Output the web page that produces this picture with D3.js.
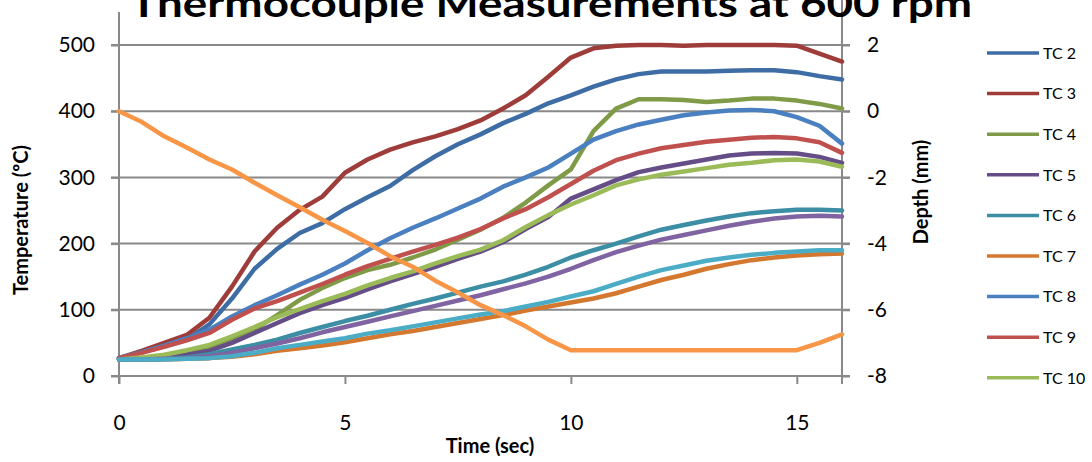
<!DOCTYPE html>
<html>
<head>
<meta charset="utf-8">
<script src="https://cdn.jsdelivr.net/npm/d3@7/dist/d3.min.js"></script>
<style>
  html, body { margin: 0; padding: 0; background: #fff; }
  svg { display: block; font-family: Lato, "Open Sans", "Liberation Sans", sans-serif; }
</style>
</head>
<body>
<svg id="chart" width="1092" height="462"></svg>
<script>
// Time base (seconds)
const time = [0, 0.5, 1, 1.5, 2, 2.5, 3, 3.5, 4, 4.5, 5, 5.5, 6, 6.5, 7, 7.5, 8,
              8.5, 9, 9.5, 10, 10.5, 11, 11.5, 12, 12.5, 13, 13.5, 14, 14.5, 15, 15.5, 16];

// Thermocouple temperatures (°C)
const tc2  = [27, 36, 45, 55, 78, 117, 162, 192, 216, 231, 252, 270, 287, 311, 332, 350, 365,
              382, 396, 412, 424, 437, 448, 456, 460, 460, 460, 461, 462, 462, 459, 453, 448];
const tc3  = [27, 38, 50, 62, 88, 135, 188, 224, 251, 271, 307, 327, 342, 353, 362, 373, 386,
              404, 424, 452, 481, 495, 499, 500, 500, 499, 500, 500, 500, 500, 499, 487, 475];
const tc4  = [26, 27, 30, 35, 42, 55, 70, 92, 115, 133, 148, 160, 168, 179, 191, 206, 221,
              239, 262, 288, 312, 370, 404, 418, 418, 417, 414, 416, 419, 419, 416, 411, 404];
const tc5  = [25, 26, 28, 32, 38, 50, 65, 80, 95, 107, 118, 131, 143, 154, 165, 177, 188,
              202, 222, 240, 268, 282, 296, 308, 315, 321, 327, 333, 336, 337, 336, 331, 322];
const tc6  = [25, 25, 26, 28, 33, 40, 47, 55, 65, 74, 83, 91, 100, 109, 117, 126, 135,
              143, 153, 165, 179, 190, 200, 211, 221, 228, 235, 241, 246, 249, 251, 251, 250];
const tc7  = [25, 25, 25, 26, 27, 29, 33, 38, 42, 46, 51, 57, 63, 68, 74, 80, 86,
              92, 99, 105, 111, 117, 125, 135, 145, 153, 162, 169, 175, 179, 182, 184, 185];
const tc8  = [27, 36, 46, 57, 70, 90, 107, 122, 138, 153, 170, 190, 208, 224, 238, 253, 268,
              286, 300, 315, 336, 357, 370, 380, 387, 394, 398, 401, 402, 400, 391, 378, 351];
const tc9  = [27, 35, 44, 54, 65, 85, 102, 113, 126, 139, 153, 166, 177, 188, 198, 209, 222,
              238, 252, 270, 290, 310, 326, 336, 344, 349, 354, 357, 360, 361, 359, 353, 337];
const tc10 = [25, 28, 32, 39, 47, 60, 74, 89, 101, 113, 124, 137, 148, 158, 170, 181, 191,
              205, 225, 243, 259, 273, 288, 297, 304, 309, 314, 319, 322, 326, 327, 324, 316];
const tc11 = [25, 25, 26, 27, 30, 35, 42, 49, 57, 66, 74, 82, 90, 98, 106, 114, 122,
              131, 140, 150, 162, 175, 187, 197, 206, 213, 220, 227, 233, 238, 241, 242, 241];
const tc12 = [25, 25, 25, 26, 27, 30, 35, 42, 47, 52, 57, 64, 69, 75, 81, 87, 93,
              98, 105, 112, 120, 128, 139, 150, 160, 167, 174, 179, 183, 186, 188, 190, 190];

// Tool depth (mm), secondary axis
const depth = [0, -0.32, -0.76, -1.1, -1.46, -1.76, -2.16, -2.54, -2.9, -3.28, -3.62, -3.98, -4.38,
               -4.7, -5.12, -5.48, -5.86, -6.16, -6.5, -6.9, -7.22, -7.22, -7.22, -7.22, -7.22,
               -7.22, -7.22, -7.22, -7.22, -7.22, -7.22, -7.0, -6.74];

const seriesNames  = ["TC 2", "TC 3", "TC 4", "TC 5", "TC 6", "TC 7", "TC 8", "TC 9", "TC 10", "TC 11", "TC 12"];
const seriesValues = [tc2, tc3, tc4, tc5, tc6, tc7, tc8, tc9, tc10, tc11, tc12];
const seriesColors = ["#3D6DA4", "#9E3C39", "#7F9B48", "#654D87", "#3C8EA4", "#D4782F",
                      "#4A7FC0", "#C0504D", "#9BBB59", "#8064A2", "#4BACC6"];
const depthColor = "#F79646";

const tempTicks  = [0, 100, 200, 300, 400, 500];
const depthTicks = [-8, -6, -4, -2, 0, 2];
const timeTicks  = [0, 5, 10, 15];
const legendCount = 9;

const svg = d3.select("#chart");
const grey = "#898989";

const x  = d3.scaleLinear().domain([0, 16]).range([119, 842]);
const y  = d3.scaleLinear().domain([0, 500]).range([376, 45]);
const y2 = d3.scaleLinear().domain([-8, 2]).range([376, 45]);

// Horizontal gridlines (they also act as the outer tick marks on both sides)
svg.append("g").selectAll("line").data(tempTicks).join("line")
  .attr("x1", 111).attr("x2", 850)
  .attr("y1", d => y(d)).attr("y2", d => y(d))
  .attr("stroke", grey).attr("stroke-width", 2);

// Vertical axis lines
svg.append("line").attr("x1", 119).attr("x2", 119).attr("y1", 12).attr("y2", 384)
  .attr("stroke", grey).attr("stroke-width", 2);
svg.append("line").attr("x1", 842).attr("x2", 842).attr("y1", 0).attr("y2", 384)
  .attr("stroke", grey).attr("stroke-width", 2);

// Left axis labels
const yAxis = svg.append("g").attr("transform", "translate(119,0)")
  .call(d3.axisLeft(y).tickValues(tempTicks).tickSize(8).tickPadding(16).tickFormat(d => String(d)));
// Right axis labels
const y2Axis = svg.append("g").attr("transform", "translate(842,0)")
  .call(d3.axisRight(y2).tickValues(depthTicks).tickSize(8).tickPadding(17).tickFormat(d => String(d)));
// Bottom axis
const xAxis = svg.append("g").attr("transform", "translate(0,376)")
  .call(d3.axisBottom(x).tickValues(timeTicks).tickSize(8).tickPadding(31).tickFormat(d => String(d)));

[yAxis, y2Axis, xAxis].forEach(g => {
  g.select(".domain").remove();
  g.selectAll(".tick line").attr("stroke", grey).attr("stroke-width", 2);
  g.selectAll(".tick text").attr("fill", "#000").style("font-size", "21px")
    .style("font-family", "Lato, 'Open Sans', sans-serif");
});
svg.append("line").attr("x1", 111).attr("x2", 842).attr("y1", 376).attr("y2", 376)
  .attr("stroke", grey).attr("stroke-width", 2);

// Temperature series
const line = d3.line().x((d, i) => x(time[i])).y(d => y(d)).curve(d3.curveLinear);
svg.append("g").selectAll("path").data(seriesValues).join("path")
  .attr("d", d => line(d))
  .attr("fill", "none")
  .attr("stroke", (d, i) => seriesColors[i])
  .attr("stroke-width", 4.5)
  .attr("stroke-linejoin", "round")
  .attr("stroke-linecap", "round");

// Depth series on secondary axis
const depthLine = d3.line().x((d, i) => x(time[i])).y(d => y2(d));
svg.append("path").attr("d", depthLine(depth))
  .attr("fill", "none").attr("stroke", depthColor).attr("stroke-width", 4.5)
  .attr("stroke-linejoin", "round").attr("stroke-linecap", "round");

// Title
svg.append("text").attr("x", 551).attr("y", 17).attr("text-anchor", "middle")
  .attr("textLength", 842).attr("lengthAdjust", "spacingAndGlyphs")
  .style("font-size", "38px").style("font-weight", "bold")
  .text("Thermocouple Measurements at 600 rpm");

// Axis titles
svg.append("text").attr("transform", "translate(28,220) rotate(-90)")
  .attr("text-anchor", "middle").style("font-size", "20px").style("font-weight", "bold")
  .text("Temperature (ºC)");
svg.append("text").attr("transform", "translate(928,192) rotate(-90)")
  .attr("text-anchor", "middle").style("font-size", "20px").style("font-weight", "bold")
  .text("Depth (mm)");
svg.append("text").attr("x", 490).attr("y", 453)
  .attr("text-anchor", "middle").style("font-size", "20px").style("font-weight", "bold")
  .text("Time (sec)");

// Legend
const legend = svg.append("g").selectAll("g")
  .data(seriesNames.slice(0, legendCount)).join("g")
  .attr("transform", (d, i) => `translate(0,${53 + i * 40.6})`);
legend.append("line").attr("x1", 987).attr("x2", 1039).attr("y1", 0).attr("y2", 0)
  .attr("stroke", (d, i) => seriesColors[i]).attr("stroke-width", 3.5);
legend.append("text").attr("x", 1043).attr("y", 0).attr("dy", "0.36em")
  .style("font-size", "16px").text(d => d);
</script>
</body>
</html>
